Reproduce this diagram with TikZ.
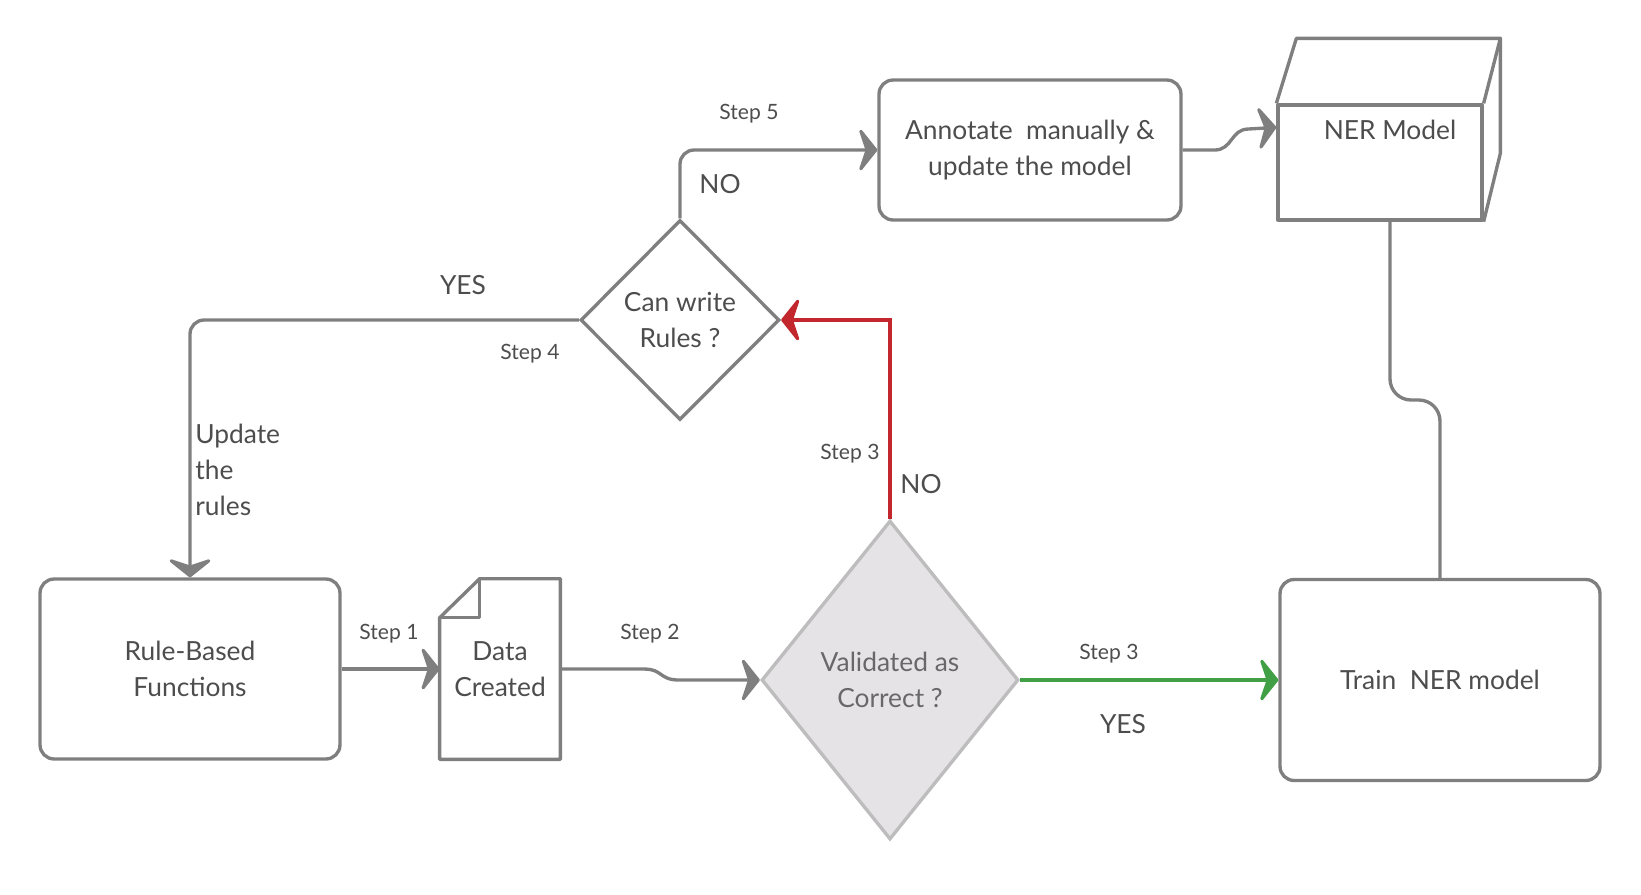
\documentclass[tikz,border=0pt]{standalone}
\usepackage{fontspec}
\setmainfont{Lato}
\usetikzlibrary{shapes.geometric,arrows.meta}
\definecolor{linegray}{HTML}{7F7F7F}
\definecolor{txtgray}{HTML}{4D4D4D}
\definecolor{nored}{HTML}{C1272D}
\definecolor{yesgreen}{HTML}{41A046}
\definecolor{valfill}{HTML}{E6E3E7}
\definecolor{valline}{HTML}{BDBDBD}
\newcommand{\bigtxt}{\fontsize{15}{20.4}\selectfont}
\newcommand{\smalltxt}{\fontsize{12}{14}\selectfont}
\begin{document}
\begin{tikzpicture}[x=0.02cm,y=-0.02cm,
  every node/.style={text=txtgray},
  box/.style={rectangle,draw=linegray,line width=1.9pt,rounded corners=8pt,align=center,font=\bigtxt},
  decision/.style={diamond,line width=1.9pt,inner sep=0pt,align=center,font=\bigtxt},
  outline/.style={draw=linegray,line width=1.9pt,line join=round},
  link/.style={draw=linegray,line width=1.9pt},
  conn/.style={link,-{Stealth[length=12pt,width=30pt,inset=5pt,round]}},
  steplbl/.style={font=\smalltxt},
  answer/.style={font=\bigtxt}]
\useasboundingbox (0,0) rectangle (1641,894);
% boxes, x and y in pixels
\node[box, minimum width=6cm, minimum height=3.6cm] (rule) at (190,669) {Rule-Based\\Functions};
\node[inner sep=0pt, minimum width=2.4cm, minimum height=3.6cm, align=center, font=\bigtxt] (data) at (500,669) {Data\\Created};
\draw[outline] ([yshift=-0.78cm]data.north west) -- ([xshift=0.8cm]data.north west) -- (data.north east) -- (data.south east) -- (data.south west) -- cycle;
\draw[outline] ([yshift=-0.78cm]data.north west) -| ([xshift=0.8cm]data.north west);
\node[decision, fill=valfill, draw=valline, text=txtgray!85, minimum width=5.14cm, minimum height=6.38cm] (val) at (890,680) {Validated as\\Correct ?};
\node[box, minimum width=6.4cm, minimum height=4.02cm] (train) at (1440,680) {Train\ \ NER model};
\node[decision, draw=linegray, minimum width=3.98cm, minimum height=4cm] (can) at (680,320) {Can write\\Rules ?};
\node[box, minimum width=6.04cm, minimum height=2.8cm] (ann) at (1030,150) {Annotate\ \ manually \&\\update the model};
% cube
\node[rectangle, outline, minimum width=4.08cm, minimum height=2.3cm] (ner) at (1380,162.5) {};
\node[font=\bigtxt] (nertxt) at (1390,130) {NER Model};
\draw[outline] (ner.north west) -- ++(20,-65) -- ++(204,0) coordinate (nerback) -- (ner.north east);
\draw[outline] (nerback) -- ++(0,115) -- (ner.south east);

% connectors
\draw[conn] (rule) -- (data);
\draw[conn] (data.east) -- ++(83,0) .. controls +(20,0) and +(-20,0) .. ([xshift=-1.62cm]val.west) -- (val.west);
\draw[conn, yesgreen] (val.east) -- (train.west);
\draw[conn, nored] (val.north) |- (can.east);
\draw[conn, rounded corners=8pt] (can.west) -| (rule.north);
\draw[conn, rounded corners=8pt] (can.north) |- (ann.west);
\draw[conn] (ann.east) -- ++(32,0) .. controls +(18,0) and +(-18,0) .. ++(34,-21) -- ([yshift=-0.48cm]ner.north west);
\coordinate (bend) at (1440,400);
\draw[link, rounded corners=12pt] ([xshift=0.2cm]ner.south) |- (bend) -- (train.north);

% labels
\node[steplbl] (s1) at (389,634) {Step 1};
\node[steplbl] (s2) at (650,634) {Step 2};
\node[steplbl] (s3yes) at (1109,654) {Step 3};
\node[answer] (yes1) at (1123,724) {YES};
\node[steplbl] (s3no) at (850,454) {Step 3};
\node[answer] (no1) at (921,484) {NO};
\node[answer] (yes2) at (463,285) {YES};
\node[steplbl] (s4) at (530,354) {Step 4};
\node[answer, align=left, anchor=west, inner sep=0pt] (upd) at (195,470) {Update\\the\\rules};
\node[steplbl] (s5) at (749,114) {Step 5};
\node[answer] (no2) at (720,184) {NO};
\end{tikzpicture}
\end{document}
